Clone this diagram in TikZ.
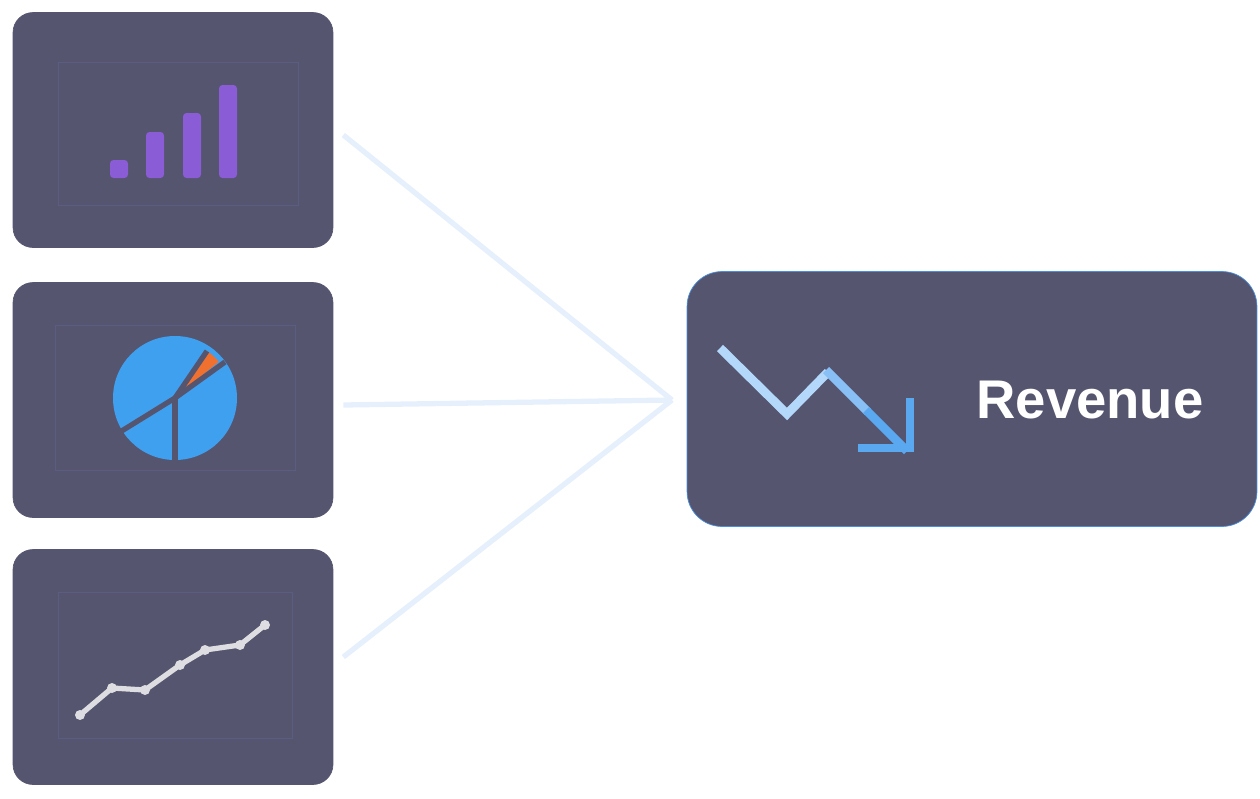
\documentclass[tikz,border=0pt]{standalone}
\usepackage{fontspec}
\setmainfont{Liberation Sans}
\usetikzlibrary{positioning}
\definecolor{cardbg}{HTML}{555570}
\definecolor{cardin}{HTML}{5A5C80}
\definecolor{edgeblue}{HTML}{4A8FDC}
\definecolor{linkblue}{HTML}{E6F0FC}
\definecolor{barpurple}{HTML}{8A5CD6}
\definecolor{pieblue}{HTML}{3FA0F0}
\definecolor{pieorange}{HTML}{F07030}
\definecolor{iconlight}{HTML}{B4D8FA}
\definecolor{iconmid}{HTML}{88C0F6}
\definecolor{icondark}{HTML}{5AA8F0}
\tikzset{
  card/.style={fill=cardbg, draw=cardbg, rounded corners=0.4cm, minimum width=6.4cm, minimum height=4.7cm},
  link/.style={draw=linkblue, line width=3pt},
  icon/.style={line width=5pt, line cap=butt, line join=miter},
}
\begin{document}
\begin{tikzpicture}[x=0.02cm,y=-0.02cm]
            \useasboundingbox (0,0) rectangle (1260,798);
            % Cards
            \node[card] (bars) at (173,130) {};
            \node[card] (pie) at (173,400) {};
            \node[card] (trend) at (173,667) {};
            \node[fill=cardbg, draw=edgeblue, rounded corners=0.7cm, minimum width=11.4cm, minimum height=5.1cm] (rev) at (972,399) {};
            \coordinate (hub) at (672,400);
            % Links
            \draw[link] (bars.east) ++(10,5) -- (hub);
            \draw[link] (pie.east) ++(10,5) -- (hub);
            \draw[link] (trend.east) ++(10,-10) -- (hub);
            % Inner frames
            \draw[cardin] (58,62) rectangle (298,205);
            \draw[cardin] (55,325) rectangle (295,470);
            \draw[cardin] (58,592) rectangle (292,738);
            % Bars
            \foreach \x/\t in {110/160,146/132,183/113,219/85}
              \fill[barpurple, rounded corners=2pt] (\x,\t) rectangle (\x+18,178);
            % Pie
            \fill[pieblue] (175,398) circle (62);
            \fill[pieorange] (175,398) -- (207,351) arc (-56:-40:57) -- cycle;
            \draw[cardbg, line width=3pt] (175,398) -- (175,462);
            \draw[cardbg, line width=3pt] (120,432) -- (175,398) -- (225,362);
            \draw[cardbg, line width=3pt] (175,398) -- (207,351);
            % Trend
            \draw[white!80!cardbg, line width=3pt, line join=round]
              (80,715) -- (112,688) -- (145,690) -- (180,665) -- (205,650) -- (240,645) -- (265,625);
            \foreach \p in {(80,715),(112,688),(145,690),(180,665),(205,650),(240,645),(265,625)}
              \fill[white!80!cardbg] \p circle (5);
            % Revenue icon
            \draw[icon, iconlight] (720,348) -- (787,414) -- (828,372);
            \draw[icon, iconmid] (826,370) -- (868,412);
            \draw[icon, icondark] (866,410) -- (907,451);
            \draw[icon, icondark] (858,448) -- (910,448) -- (910,398);
            \node[font=\bfseries\fontsize{31}{31}\selectfont, text=white] (revtext) at (1090,400) {Revenue};
\end{tikzpicture}
\end{document}
